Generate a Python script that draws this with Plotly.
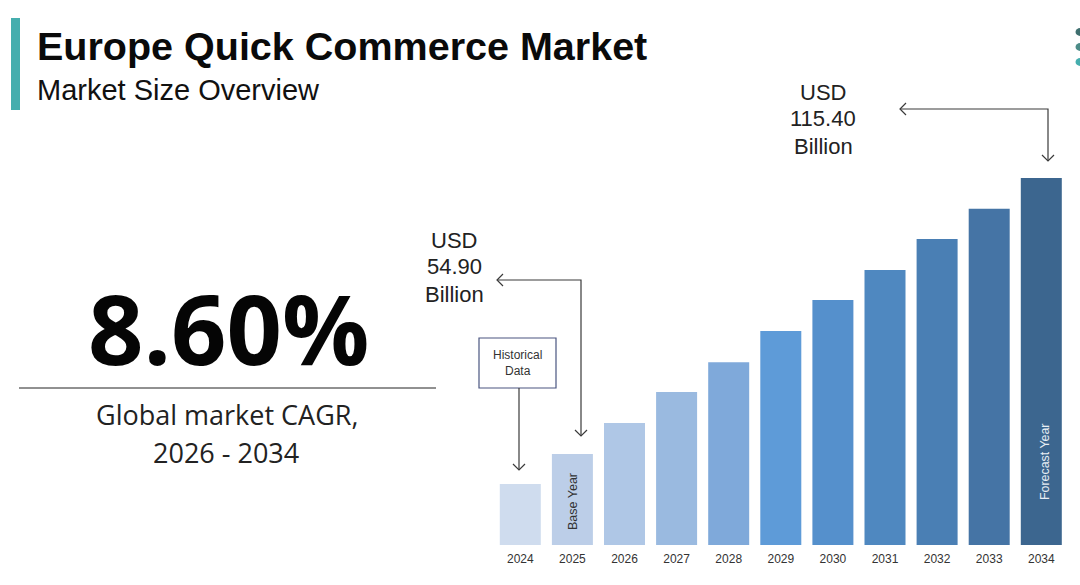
import plotly.graph_objects as go

W, H = 1080, 585
years = [2024, 2025, 2026, 2027, 2028, 2029, 2030, 2031, 2032, 2033, 2034]
# Bar heights as drawn, scaled so that 2034 reads 115.40 (the picture is schematic)
values = [19.2, 28.6, 38.4, 48.1, 57.5, 67.3, 77.0, 86.5, 96.2, 105.7, 115.4]
colors = ["#CFDCEE", "#BCCEE8", "#AFC7E6", "#9ABAE0", "#7FA9DA", "#5E9BD8",
          "#5590CC", "#4F88C0", "#4A7FB4", "#4574A5", "#3C668F"]

BASE_PX = 545
X0_PX, STEP_PX = 520.3, 52.1
PX_PER_UNIT = 367 / 115.4

def px(x):
    return x / W

def py(y):
    return 1 - y / H

fig = go.Figure(go.Bar(x=years, y=values, marker=dict(color=colors, line_width=0),
                       width=41 / STEP_PX, hoverinfo="skip"))

ann = []
def text(x, y, s, size, family="Liberation Sans", color="#111111", angle=0, anchor="center"):
    ann.append(dict(x=px(x), y=py(y), xref="paper", yref="paper", text=s, showarrow=False,
                    xanchor=anchor, yanchor="middle", textangle=angle,
                    font=dict(family=family, size=size, color=color)))

text(35, 46, "<b>Europe Quick Commerce Market</b>", 39.5, color="#0a0a0a", anchor="left")
text(35, 90, "Market Size Overview", 29, color="#111111", anchor="left")
text(228, 327, "<b>8.60%</b>", 97, family="Open Sans", color="#050505")
text(227, 414, "Global market CAGR,", 27, family="Open Sans", color="#222222")
text(226, 452, "2026 - 2034", 27, family="Open Sans", color="#222222")
for i, s in enumerate(["USD", "54.90", "Billion"]):
    text(454, 240 + 27 * i, s, 22, color="#222222")
for i, s in enumerate(["USD", "115.40", "Billion"]):
    text(823, 92 + 27 * i, s, 22, color="#222222")
text(517.5, 363, "Historical<br>Data", 12, color="#333333")
text(573, 502, "Base Year", 12.5, color="#333333", angle=-90)
text(1045, 462, "Forecast Year", 12.4, color="#E8EEF4", angle=-90)

shapes = []
def rect(x0, y0, x1, y1, **kw):
    shapes.append(dict(type="rect", xref="paper", yref="paper", x0=px(x0), x1=px(x1),
                       y0=py(y1), y1=py(y0), **kw))

def line(points, color="#3A3A3A", width=1.2):
    d = "M " + " L ".join(f"{px(x)} {py(y)}" for x, y in points)
    shapes.append(dict(type="path", xref="paper", yref="paper", path=d,
                       line=dict(color=color, width=width)))

rect(11, 18, 20, 110, fillcolor="#45AEAE", line_width=0)
line([(19, 388), (436, 388)], color="#222222", width=1)
rect(479, 338, 556, 388, fillcolor="white", line=dict(color="#4A5580", width=1.2))

# connectors with open arrow heads
H_L = 6
line([(519, 388), (519, 470)])
line([(519 - H_L, 464), (519, 470), (519 + H_L, 464)])
line([(581, 436), (581, 280), (497, 280)])
line([(581 - H_L, 430), (581, 436), (581 + H_L, 430)])
line([(503, 274), (497, 280), (503, 286)])
line([(1048, 161), (1048, 109), (900, 109)])
line([(1048 - H_L, 155), (1048, 161), (1048 + H_L, 155)])
line([(906, 103), (900, 109), (906, 115)])

# logo fragment at the right edge
for y, c in [(32, "#3F6F6F"), (47, "#4C8C88"), (62, "#45AEAE")]:
    shapes.append(dict(type="circle", xref="paper", yref="paper", x0=px(1075.5), x1=px(1085),
                       y0=py(y + 4), y1=py(y - 4), fillcolor=c, line_width=0))

fig.update_layout(
    width=W, height=H, margin=dict(l=0, r=0, t=0, b=0),
    paper_bgcolor="white", plot_bgcolor="white", showlegend=False,
    annotations=ann, shapes=shapes,
    xaxis=dict(domain=[0, 1], range=[years[0] - X0_PX / STEP_PX, years[0] + (W - X0_PX) / STEP_PX],
               tickmode="array", tickvals=years, ticktext=[str(y) for y in years],
               ticks="", showgrid=False, zeroline=False, showline=False, ticklabelstandoff=5,
               tickfont=dict(family="Liberation Sans", size=12, color="#333333")),
    yaxis=dict(domain=[1 - BASE_PX / H, 1], range=[0, BASE_PX / PX_PER_UNIT],
               visible=False, showgrid=False, zeroline=False),
)

fig.write_html("out.html", config=dict(displayModeBar=False),
               post_script="document.body.style.margin='0';document.body.style.overflow='hidden';")
